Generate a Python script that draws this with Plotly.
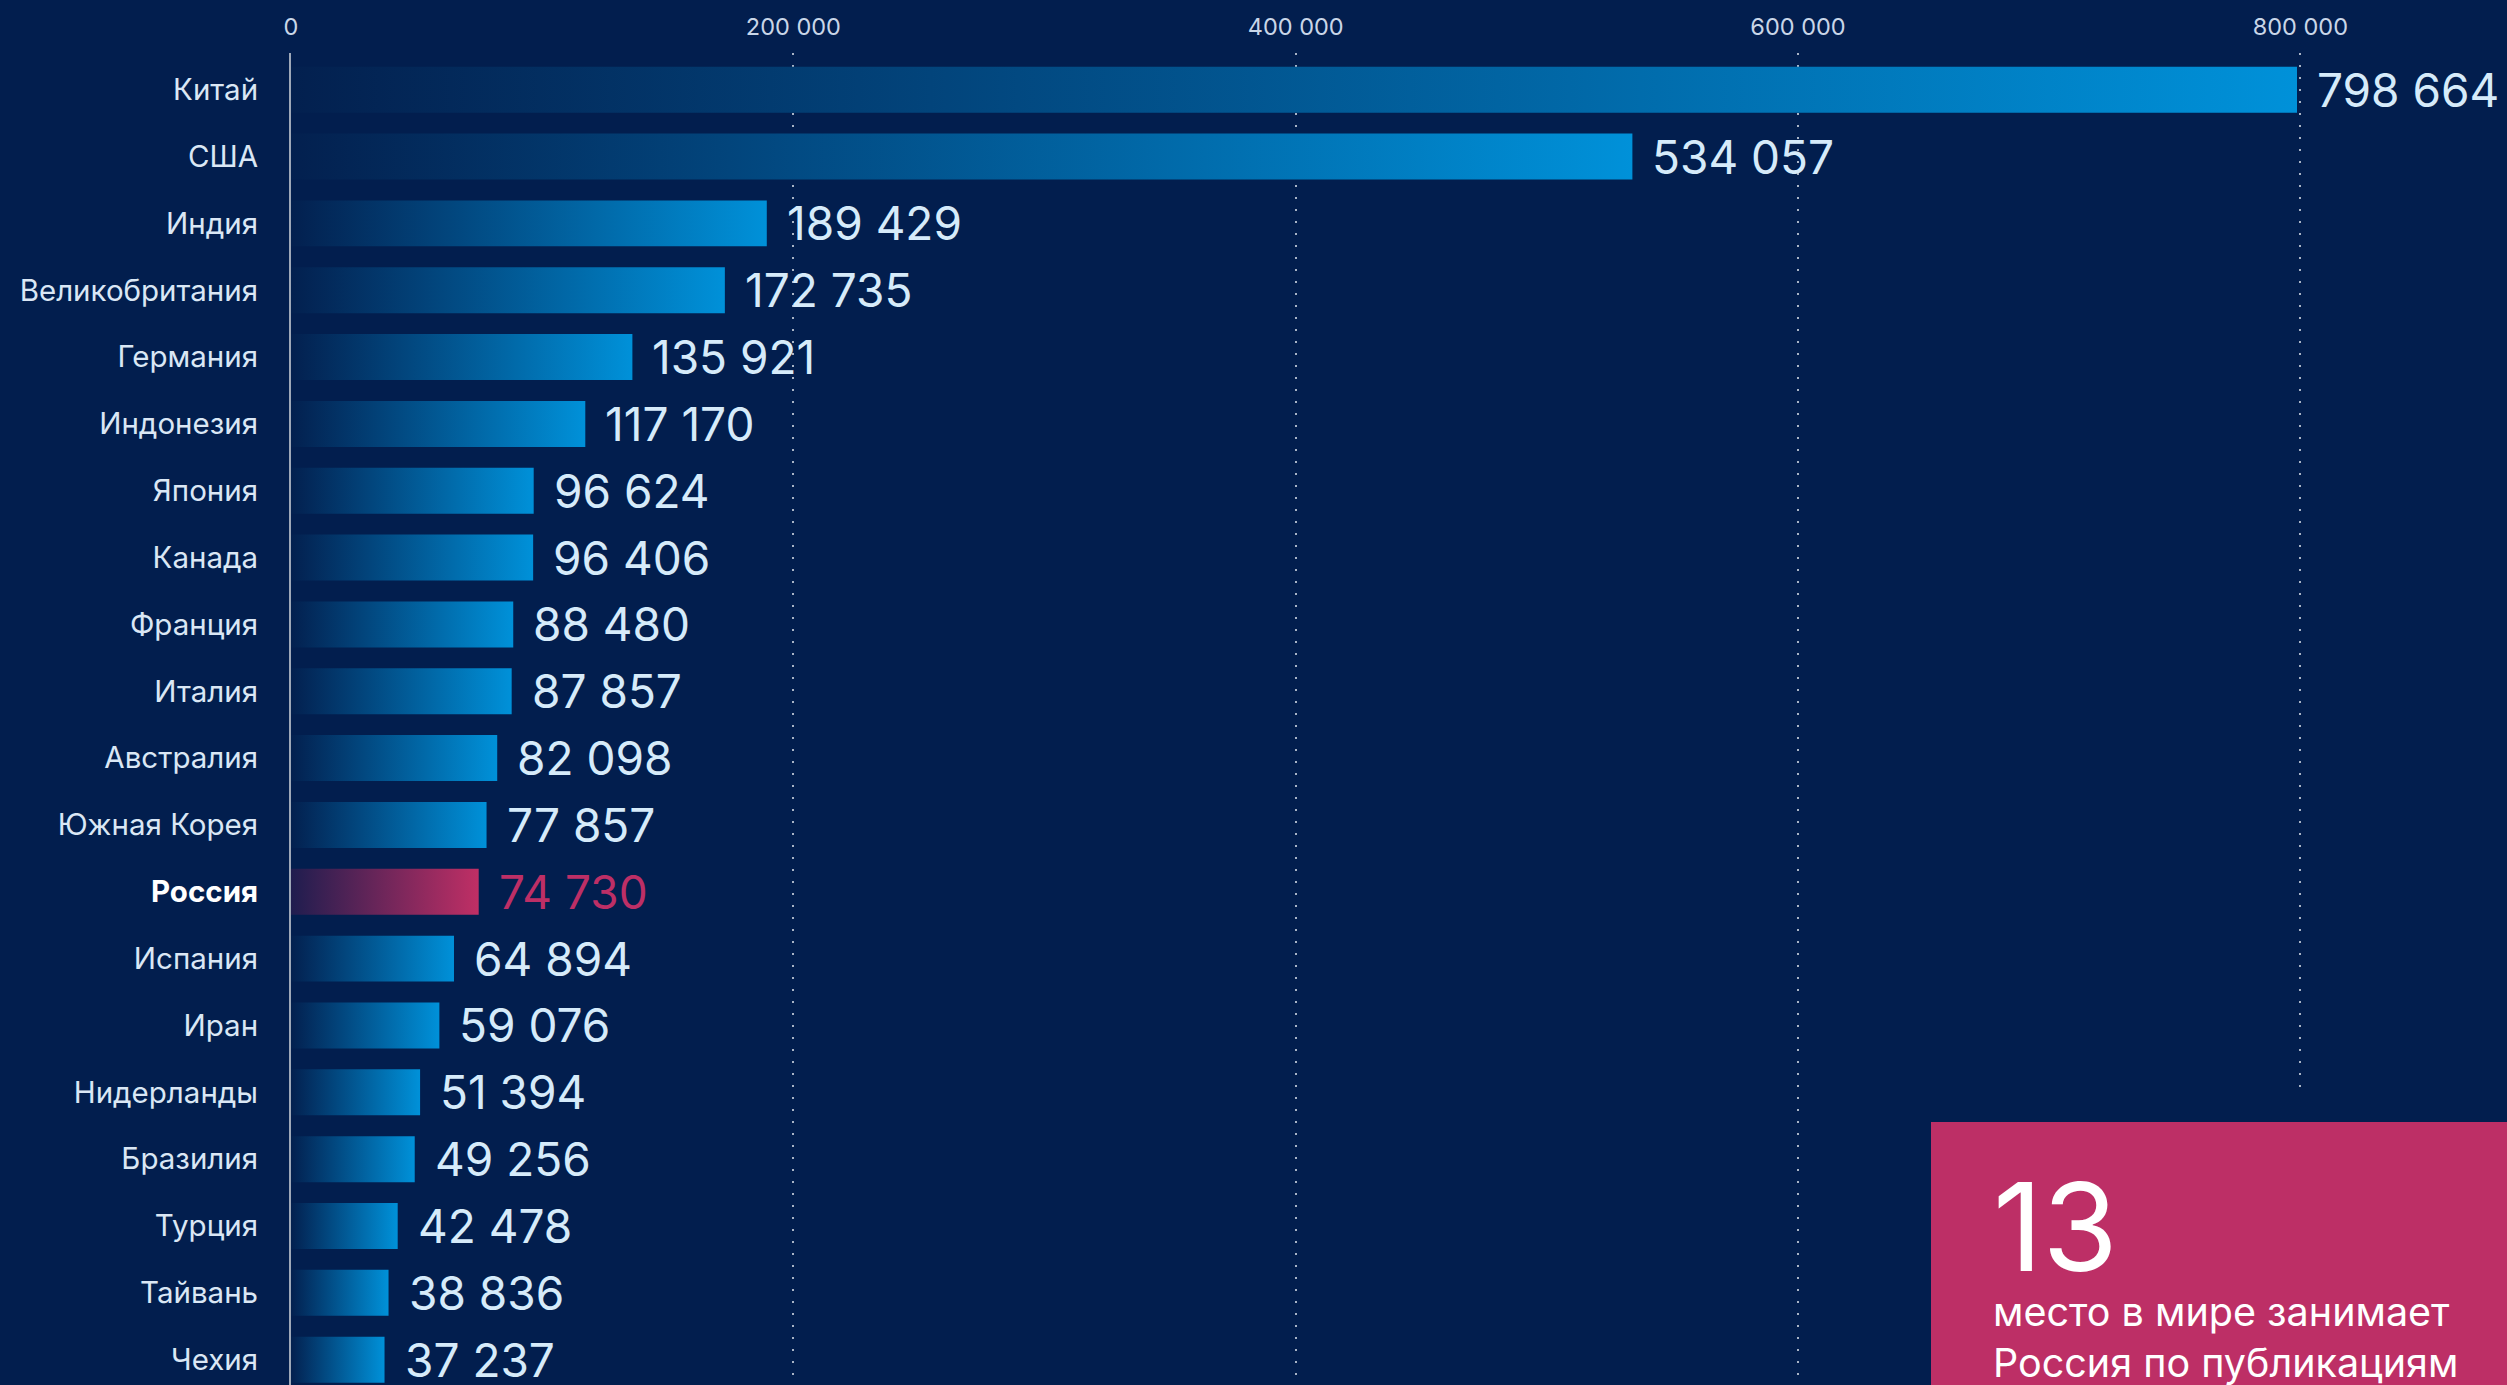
import plotly.graph_objects as go

countries = ["Китай", "США", "Индия", "Великобритания", "Германия", "Индонезия",
             "Япония", "Канада", "Франция", "Италия", "Австралия", "Южная Корея",
             "Россия", "Испания", "Иран", "Нидерланды", "Бразилия", "Турция",
             "Тайвань", "Чехия"]
publications = [798664, 534057, 189429, 172735, 135921, 117170, 96624, 96406,
                88480, 87857, 82098, 77857, 74730, 64894, 59076, 51394, 49256,
                42478, 38836, 37237]
highlight = "Россия"
x_tickvals = [0, 200000, 400000, 600000, 800000]
x_ticktext = ["0", "200 000", "400 000", "600 000", "800 000"]
rank_number = "13"
rank_text = "место в мире занимает<br>Россия по публикациям"

BG = "#021e4e"
BLUE_SCALE = [[0, "#03204f"], [1, "#0091d9"]]
PINK_SCALE = [[0, "#1f1d4f"], [1, "#c02f65"]]
PINK = "#bd2f66"
LABEL_BLUE = "#d6ebfa"
FONT = "Inter"

W, H = 2507, 1385
ML, MT = 291, 53
half = 0.344

fig = go.Figure()
for i, (c, v) in enumerate(zip(countries, publications)):
    scale = PINK_SCALE if c == highlight else BLUE_SCALE
    fig.add_trace(go.Scatter(
        x=[0, v, v, 0, 0],
        y=[i - half, i - half, i + half, i + half, i - half],
        mode="lines", fill="toself",
        fillgradient=dict(type="horizontal", colorscale=scale),
        line=dict(width=0, color="rgba(0,0,0,0)"),
        hoverinfo="skip", showlegend=False,
    ))
    fig.add_annotation(
        x=v, y=i, xref="x", yref="y", text=f"{v:,}".replace(",", " "),
        showarrow=False, xanchor="left", yanchor="middle", xshift=18,
        font=dict(family=FONT, size=46, color=PINK if c == highlight else LABEL_BLUE),
    )

ticktext = [f"<b><span style='color:#ffffff'>{c}</span></b>" if c == highlight else c
            for c in countries]

plot_h = H - MT
px_per_row = 66.84
top_val = -(89.7 - MT) / px_per_row
bot_val = top_val + plot_h / px_per_row

px_per_unit = 2.5117 / 1000
x_max = (W - ML) / px_per_unit

fig.update_layout(
    width=W, height=H,
    margin=dict(l=ML, r=0, t=MT, b=0, pad=0),
    paper_bgcolor=BG, plot_bgcolor=BG,
    font=dict(family=FONT),
    xaxis=dict(
        side="top", range=[0, x_max], tickvals=x_tickvals, ticktext=x_ticktext,
        tickfont=dict(family=FONT, size=23.5, color="#c9d6e8"),
        showgrid=True, gridcolor="#a9b4c6", gridwidth=2, griddash="2px,10px",
        zeroline=False, showline=False, ticks="", ticklabelstandoff=12,
    ),
    yaxis=dict(
        range=[bot_val, top_val], tickvals=list(range(len(countries))), ticktext=ticktext,
        tickfont=dict(family=FONT, size=29.5, color="#dae7f5"),
        showgrid=False, zeroline=False, showline=True, linecolor="#9ea8b8", linewidth=2,
        ticks="", ticklabelstandoff=25,
    ),
)

bx0 = (1931 - ML) / (W - ML)
by_top = (H - 1122) / plot_h
fig.add_shape(type="rect", xref="paper", yref="paper", x0=bx0, x1=1.01,
              y0=by_top, y1=(H - 1092) / plot_h, fillcolor=BG, line_width=0, layer="above")
fig.add_shape(type="rect", xref="paper", yref="paper", x0=bx0, x1=1.01,
              y0=-0.02, y1=by_top, fillcolor=PINK, line_width=0, layer="above")

tx = (1991 - ML) / (W - ML)
fig.add_annotation(xref="paper", yref="paper", x=tx, y=(H - 1226) / plot_h,
                   text=rank_number, showarrow=False, xanchor="left", yanchor="middle",
                   font=dict(family=FONT, size=122, color="#ffffff"))
fig.add_annotation(xref="paper", yref="paper", x=tx, y=(H - 1337) / plot_h,
                   text=rank_text, showarrow=False, xanchor="left", yanchor="middle",
                   align="left", font=dict(family=FONT, size=39.5, color="#ffffff"))

fig.write_html("out.html", config={"displayModeBar": False},
               post_script="document.body.style.margin='0';document.body.style.overflow='hidden';")
